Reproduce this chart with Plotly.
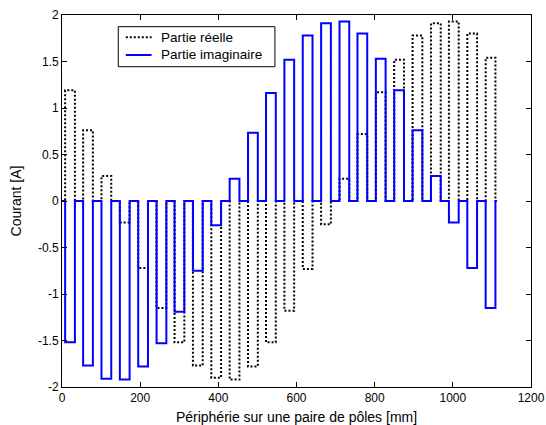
import plotly.graph_objects as go

# Slot start positions along the periphery [mm]
slot_start = [8, 54, 101, 148, 195, 242, 288, 335, 382, 429, 476, 522,
              569, 616, 663, 710, 756, 803, 850, 897, 944, 990, 1037, 1084]
slot_width = 25
x_end = 1113

# Real part of the current per slot [A]
real_part = [1.19, 0.76, 0.27, -0.23, -0.72, -1.15, -1.52, -1.77, -1.90, -1.92,
             -1.78, -1.52, -1.18, -0.73, -0.25, 0.24, 0.72, 1.17, 1.52, 1.78,
             1.91, 1.93, 1.80, 1.54]
# Imaginary part of the current per slot [A]
imag_part = [-1.52, -1.77, -1.91, -1.92, -1.78, -1.53, -1.19, -0.75, -0.26, 0.24,
             0.735, 1.16, 1.52, 1.78, 1.91, 1.93, 1.80, 1.53, 1.19, 0.76,
             0.27, -0.23, -0.72, -1.15]

series_names = ["Partie réelle", "Partie imaginaire"]

x_ticks = [0, 200, 400, 600, 800, 1000, 1200]
x_ticklabels = ["0", "200", "400", "600", "800", "1000", "1200"]
y_ticks = [-2, -1.5, -1, -0.5, 0, 0.5, 1, 1.5, 2]
y_ticklabels = ["-2", "-1.5", "-1", "-0.5", "0", "0.5", "1", "1.5", "2"]


def steps(starts, values, width, end):
    xs, ys = [0], [0]
    for s, v in zip(starts, values):
        xs += [s, s, s + width, s + width]
        ys += [0, v, v, 0]
    xs.append(end)
    ys.append(0)
    return xs, ys


xr, yr = steps(slot_start, real_part, slot_width, x_end)
xi, yi = steps(slot_start, imag_part, slot_width, x_end)

dotted = dict(color="black", width=2, dash="2px,2px")
solid = dict(color="#0000FF", width=2)

fig = go.Figure()
fig.add_trace(go.Scatter(x=xr, y=yr, mode="lines", name=series_names[0],
                         line=dotted, showlegend=False))
fig.add_trace(go.Scatter(x=xi, y=yi, mode="lines", name=series_names[1],
                         line=solid, showlegend=False))

FAMILY = "Liberation Sans, Arial, sans-serif"
font = dict(family=FAMILY, size=12, color="black")
label_font = dict(family=FAMILY, size=14, color="black")
axis_common = dict(showline=True, linecolor="black", linewidth=1, mirror="allticks",
                   ticks="inside", ticklen=5, tickcolor="black", showgrid=False,
                   zeroline=False, tickfont=font, automargin=False)

# Legend box drawn in paper coordinates (MATLAB-style compact legend)
box = dict(x0=0.120, x1=0.454, y0=0.861, y1=0.9686)
rows_y = [0.940, 0.8925]
sample_x = (0.136, 0.191)
text_x = 0.206
shapes = [dict(type="rect", xref="paper", yref="paper", **box,
               line=dict(color="black", width=1), fillcolor="white", layer="above")]
annotations = []
for name, ly, style in zip(series_names, rows_y, [dotted, solid]):
    shapes.append(dict(type="line", xref="paper", yref="paper",
                       x0=sample_x[0], x1=sample_x[1], y0=ly, y1=ly,
                       line=style, layer="above"))
    annotations.append(dict(text=name, xref="paper", yref="paper", x=text_x, y=ly,
                            xanchor="left", yanchor="middle", showarrow=False,
                            font=dict(family=FAMILY, size=13.5, color="black")))

fig.update_layout(
    width=546, height=425,
    margin=dict(l=62, r=15, t=15, b=38),
    paper_bgcolor="white", plot_bgcolor="white",
    font=font,
    showlegend=False,
    hovermode=False,
    shapes=shapes,
    annotations=annotations,
    xaxis=dict(range=[0, 1200], tickvals=x_ticks, ticktext=x_ticklabels,
               title=dict(text="Périphérie sur une paire de pôles [mm]", standoff=11,
                          font=label_font),
               **axis_common),
    yaxis=dict(range=[-2, 2], tickvals=y_ticks, ticktext=y_ticklabels,
               title=dict(text="Courant [A]", standoff=13, font=label_font),
               **axis_common),
)

# Remove the default 8 px page margin so the figure fills the window exactly.
fig.write_html("out.html",
               config={"displayModeBar": False, "staticPlot": True},
               post_script="document.body.style.margin='0';document.body.style.overflow='hidden';")
